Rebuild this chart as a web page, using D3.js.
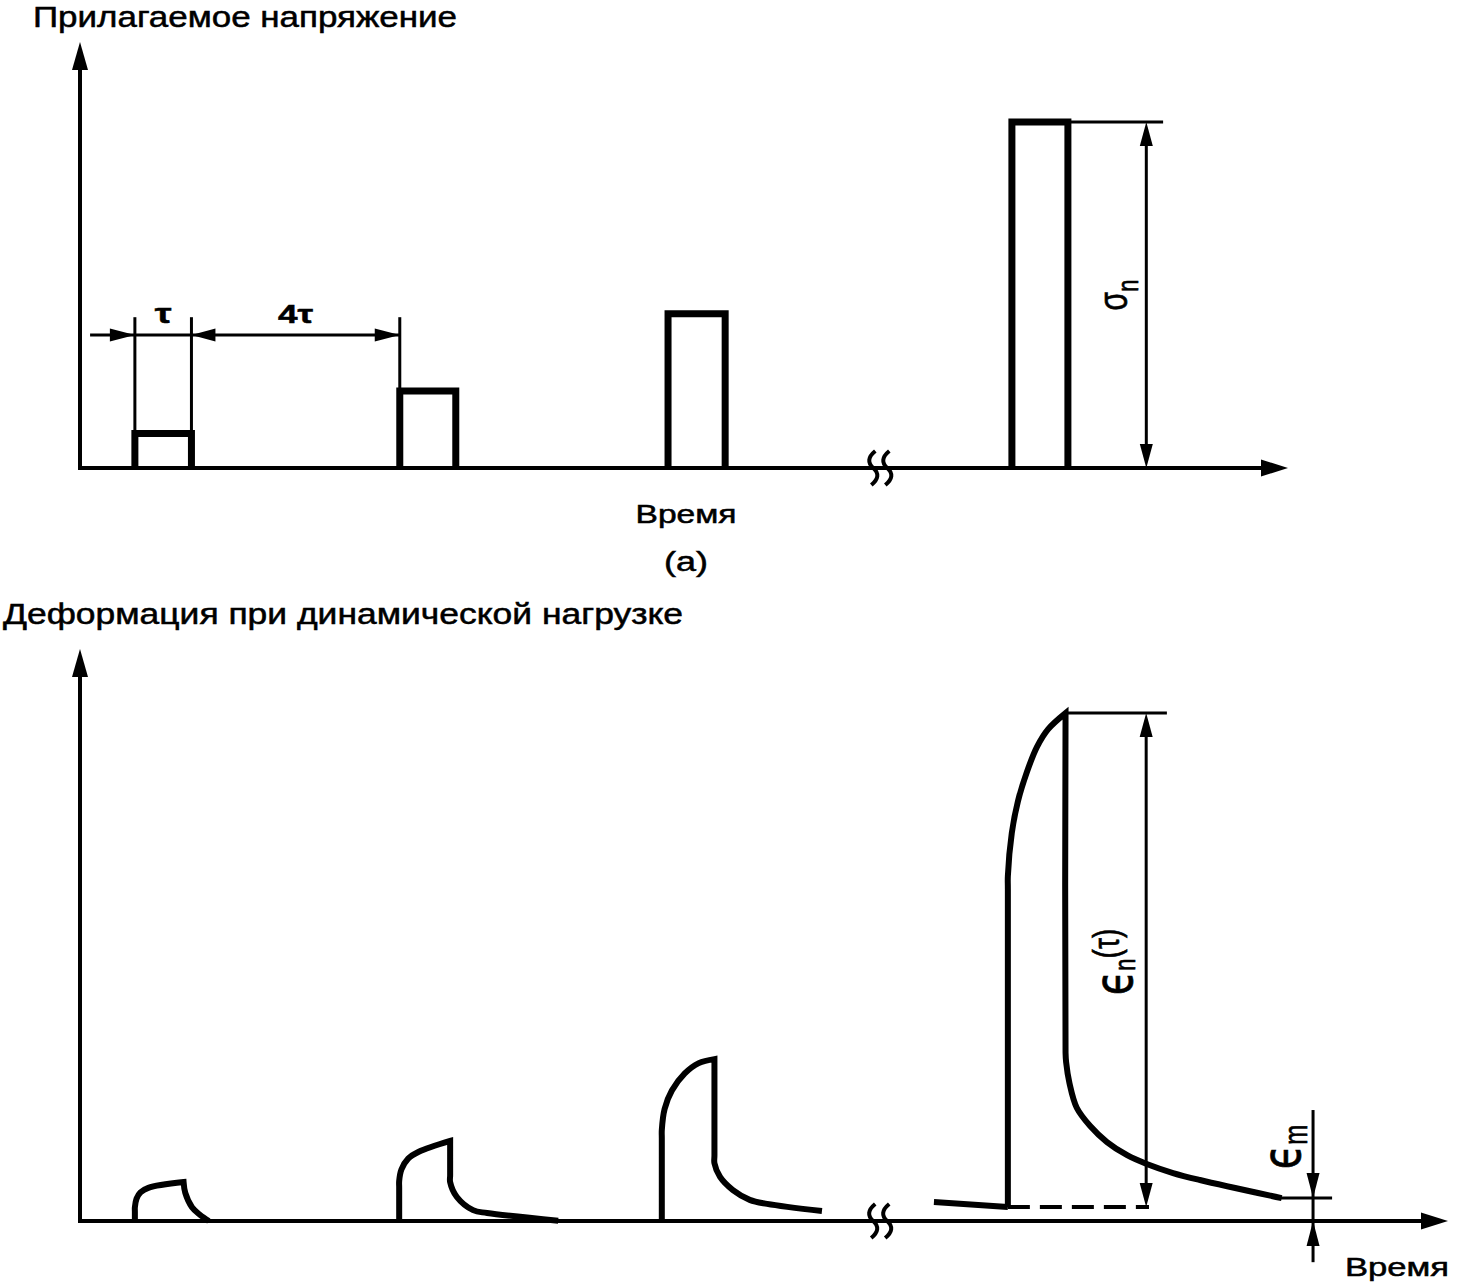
<!DOCTYPE html>
<html>
<head>
<meta charset="utf-8">
<script src="https://cdn.jsdelivr.net/npm/d3@7"></script>
<style>
  body { margin: 0; background: #fff; }
  svg { display: block; background: #fff; }
  text { font-family: "Liberation Sans", Arial, sans-serif; fill: #000; stroke: #000; stroke-width: 0.5; }
</style>
</head>
<body>
<svg id="chart" width="1458" height="1287"></svg>
<script>
// Time is in units of tau, stress and strain in % of the axis height.

// (a) applied stress pulses
const pulseStart = [0.98, 5.71, 10.5, 16.64];
const pulseEnd   = [1.99, 6.71, 11.52, 17.64];
const pulseLevel = [8.1, 18.1, 36.2, 81.2];

// time where both time axes are broken
const breakTime = 14.29;

// (b) strain response: rise while loaded, recovery after unloading
const riseCurves = [
  [[0.98, 0], [0.98, 1.6], [0.98, 2.4], [1.01, 3.9], [1.08, 5.0], [1.22, 5.8], [1.85, 6.8]],
  [[5.70, 0], [5.70, 5.8], [5.70, 7.0], [5.74, 9.0], [5.86, 10.9], [6.05, 12.1], [6.61, 14.0]],
  [[10.39, 0], [10.39, 14.5], [10.39, 15.9], [10.44, 19.6], [10.57, 22.8], [10.8, 25.8], [11.05, 27.6], [11.33, 28.3]],
  [[16.57, 2.45], [16.57, 58.0], [16.57, 60.3], [16.64, 67.8], [16.75, 73.4], [16.91, 78.5], [17.09, 82.9], [17.29, 86.0], [17.6, 88.8]]
];
const fallCurves = [
  [[1.85, 6.8], [1.88, 4.9], [2.0, 2.4], [2.14, 1.1], [2.3, 0]],
  [[6.61, 14.0], [6.61, 8.0], [6.61, 6.8], [6.73, 4.2], [7.02, 1.9], [7.27, 1.4], [8.54, 0.05]],
  [[11.33, 28.3], [11.33, 11.5], [11.33, 10.1], [11.43, 7.7], [11.66, 5.4], [11.96, 3.7], [12.27, 3.0], [13.25, 1.75]],
  [[17.6, 88.8], [17.6, 29.5], [17.61, 27.8], [17.67, 24.1], [17.8, 19.8], [18.04, 16.6], [18.34, 13.8], [18.7, 11.5], [19.05, 9.97], [19.52, 8.39], [20.0, 7.17], [21.46, 4.0]]
];
// residual strain carried in before the last pulse
const preLoad = [[15.25, 3.32], [16.57, 2.45]];

// dimension marks
const tauDimLevel = 31.2;     // stress level of the tau / 4tau dimension line
const tauExtTop   = 35.4;
const tauDimFrom  = 0.18;
const sigmaDimT   = 19.04;
const sigmaExtEnd = 19.34;
const epsBase     = 2.45;     // dashed base line of the last response
const epsPeak     = 88.8;
const epsDimT     = 19.04;
const epsDashEnd  = 19.09;
const epsExtEnd   = 19.41;
const epsmLevel   = 4.0;
const epsmT       = 22.02;
const epsmFrom    = 21.43;
const epsmTo      = 22.36;
const epsmLineTop = 19.4;
const epsmLineBot = -7.2;

const labels = {
  topTitle: 'Прилагаемое напряжение',
  bottomTitle: 'Деформация при динамической нагрузке',
  time: 'Время',
  panel: '(a)'
};

const svg = d3.select('#chart');
const stretch = 1.35;   // the drawing is widened horizontally

const xTop = d3.scaleLinear().domain([0, 21.57]).range([80, 1288]);
const yTop = d3.scaleLinear().domain([0, 100]).range([468, 42]);
const xBot = d3.scaleLinear().domain([0, 24.43]).range([80, 1448]);
const yBot = d3.scaleLinear().domain([0, 100]).range([1221, 649]);

function arrowHead(g, x, y, dir, len, half) {
  let pts = {
    up:    [[x, y], [x - half, y + len], [x + half, y + len]],
    down:  [[x, y], [x - half, y - len], [x + half, y - len]],
    left:  [[x, y], [x + len, y - half], [x + len, y + half]],
    right: [[x, y], [x - len, y - half], [x - len, y + half]]
  }[dir];
  g.append('path')
    .attr('d', 'M' + pts.join('L') + 'Z')
    .attr('fill', '#000');
}

function thinLine(g, x1, y1, x2, y2, w) {
  return g.append('line')
    .attr('x1', x1).attr('y1', y1)
    .attr('x2', x2).attr('y2', y2)
    .attr('stroke', '#000')
    .attr('stroke-width', w || 3);
}

function drawAxes(g, x, y) {
  let x0 = x(0), y0 = y(0);
  let xEnd = x.range()[1], yEnd = y.range()[1];
  thinLine(g, x0, y0 + 2, x0, yEnd + 20, 4);
  thinLine(g, x0 - 2, y0, xEnd - 20, y0, 4);
  arrowHead(g, x0, yEnd, 'up', 28, 8);
  arrowHead(g, xEnd, y0, 'right', 27, 8.5);

  // break marks on the time axis
  let bx = x(breakTime);
  [-7, 7].forEach(dx => {
    let cx = bx + dx;
    g.append('path')
      .attr('d', `M${cx + 2},${y0 - 17} Q${cx - 9},${y0 - 8} ${cx},${y0} Q${cx + 9},${y0 + 8} ${cx - 2},${y0 + 17}`)
      .attr('fill', 'none')
      .attr('stroke', '#000')
      .attr('stroke-width', 4);
  });
}

function hText(g, str, x, y, size, width, anchor) {
  return g.append('text')
    .attr('x', x).attr('y', y)
    .attr('font-size', size)
    .attr('text-anchor', anchor || 'start')
    .attr('textLength', width)
    .attr('lengthAdjust', 'spacingAndGlyphs')
    .text(str);
}

// vertical label reading bottom to top, baseline at screen x
function vText(g, x, y) {
  return g.append('text')
    .attr('transform', `translate(${x},${y}) rotate(-90) scale(1,${stretch})`)
    .attr('text-anchor', 'middle');
}

// ---------- (a) applied stress ----------
let topG = svg.append('g');
drawAxes(topG, xTop, yTop);

let pulses = topG.selectAll('.pulse')
  .data(pulseStart.map((s, i) => ({ s: s, e: pulseEnd[i], v: pulseLevel[i] })));
pulses.enter().append('path')
  .attr('class', 'pulse')
  .attr('d', d => `M${xTop(d.s)},${yTop(0)}V${yTop(d.v)}H${xTop(d.e)}V${yTop(0)}`)
  .attr('fill', 'none')
  .attr('stroke', '#000')
  .attr('stroke-width', 7)
  .attr('stroke-linejoin', 'miter');

// tau and 4 tau
let yDim = yTop(tauDimLevel);
thinLine(topG, xTop(pulseStart[0]), yTop(pulseLevel[0]), xTop(pulseStart[0]), yTop(tauExtTop));
thinLine(topG, xTop(pulseEnd[0]), yTop(pulseLevel[0]), xTop(pulseEnd[0]), yTop(tauExtTop));
thinLine(topG, xTop(pulseStart[1]), yTop(pulseLevel[1]), xTop(pulseStart[1]), yTop(tauExtTop));
thinLine(topG, xTop(tauDimFrom), yDim, xTop(pulseStart[1]), yDim);
arrowHead(topG, xTop(pulseStart[0]), yDim, 'right', 25, 6.5);
arrowHead(topG, xTop(pulseEnd[0]), yDim, 'left', 24, 6.5);
arrowHead(topG, xTop(pulseStart[1]), yDim, 'right', 25, 6.5);

topG.append('text')
  .attr('transform', `translate(${(xTop(pulseStart[0]) + xTop(pulseEnd[0])) / 2},323) scale(${stretch},1)`)
  .attr('text-anchor', 'middle')
  .attr('font-size', 28)
  .attr('font-family', 'DejaVu Serif')
  .attr('font-weight', 'bold')
  .text('τ');
topG.append('text')
  .attr('transform', `translate(${(xTop(pulseEnd[0]) + xTop(pulseStart[1])) / 2},323) scale(${stretch},1)`)
  .attr('text-anchor', 'middle')
  .attr('font-size', 26)
  .attr('font-weight', 'bold')
  .text('4τ');

// sigma_n
thinLine(topG, xTop(pulseEnd[3]), yTop(pulseLevel[3]), xTop(sigmaExtEnd), yTop(pulseLevel[3]));
thinLine(topG, xTop(sigmaDimT), yTop(pulseLevel[3]) + 10, xTop(sigmaDimT), yTop(0) - 10);
arrowHead(topG, xTop(sigmaDimT), yTop(pulseLevel[3]), 'up', 24, 6.5);
arrowHead(topG, xTop(sigmaDimT), yTop(0), 'down', 24, 6.5);
let sig = vText(topG, xTop(sigmaDimT) - 19, 295);
sig.append('tspan').attr('font-size', 30).text('σ');
sig.append('tspan').attr('font-size', 22).attr('dy', 8).text('n');

hText(topG, labels.topTitle, 33, 27, 29, 424);
hText(topG, labels.time, 686, 523, 25, 101, 'middle');
hText(topG, labels.panel, 686, 571, 27, 44, 'middle');

// ---------- (b) strain under dynamic load ----------
let botG = svg.append('g');
drawAxes(botG, xBot, yBot);

let line = d3.line()
  .x(d => xBot(d[0]))
  .y(d => yBot(d[1]))
  .curve(d3.curveCatmullRom.alpha(0.5));

let responses = botG.selectAll('.response')
  .data(riseCurves.map((r, i) => ({ rise: r, fall: fallCurves[i] })));
responses.enter().append('path')
  .attr('class', 'response')
  .attr('d', d => {
    let f = line(d.fall);
    return line(d.rise) + f.slice(f.search(/[CL]/));
  })
  .attr('fill', 'none')
  .attr('stroke', '#000')
  .attr('stroke-width', 6)
  .attr('stroke-linejoin', 'miter');

botG.append('path')
  .attr('d', d3.line().x(d => xBot(d[0])).y(d => yBot(d[1]))(preLoad))
  .attr('fill', 'none')
  .attr('stroke', '#000')
  .attr('stroke-width', 6);

// epsilon_n(tau)
thinLine(botG, xBot(preLoad[1][0]), yBot(epsBase), xBot(epsDashEnd), yBot(epsBase), 4)
  .attr('stroke-dasharray', '22,10');
thinLine(botG, xBot(riseCurves[3][riseCurves[3].length - 1][0]), yBot(epsPeak), xBot(epsExtEnd), yBot(epsPeak));
thinLine(botG, xBot(epsDimT), yBot(epsPeak) + 10, xBot(epsDimT), yBot(epsBase) - 10);
arrowHead(botG, xBot(epsDimT), yBot(epsPeak), 'up', 24, 6.5);
arrowHead(botG, xBot(epsDimT), yBot(epsBase), 'down', 24, 6.5);
let epsN = vText(botG, xBot(epsDimT) - 14, 962);
epsN.append('tspan').attr('font-size', 40).attr('font-family', 'DejaVu Sans').text('ϵ');
epsN.append('tspan').attr('font-size', 22).attr('dy', 2).text('n');
epsN.append('tspan').attr('font-size', 28).attr('dy', -12).text('(τ)');

// epsilon_m
thinLine(botG, xBot(epsmFrom), yBot(epsmLevel), xBot(epsmTo), yBot(epsmLevel));
thinLine(botG, xBot(epsmT), yBot(epsmLineTop), xBot(epsmT), yBot(epsmLineBot));
arrowHead(botG, xBot(epsmT), yBot(epsmLevel), 'down', 25, 6.5);
arrowHead(botG, xBot(epsmT), yBot(0), 'up', 25, 6.5);
let epsM = vText(botG, xBot(epsmT) - 13, 1147);
epsM.append('tspan').attr('font-size', 40).attr('font-family', 'DejaVu Sans').text('ϵ');
epsM.append('tspan').attr('font-size', 24).attr('dy', 5).text('m');

hText(botG, labels.bottomTitle, 3, 624, 29, 680);
hText(botG, labels.time, 1345, 1276, 25, 104);
</script>
</body>
</html>
